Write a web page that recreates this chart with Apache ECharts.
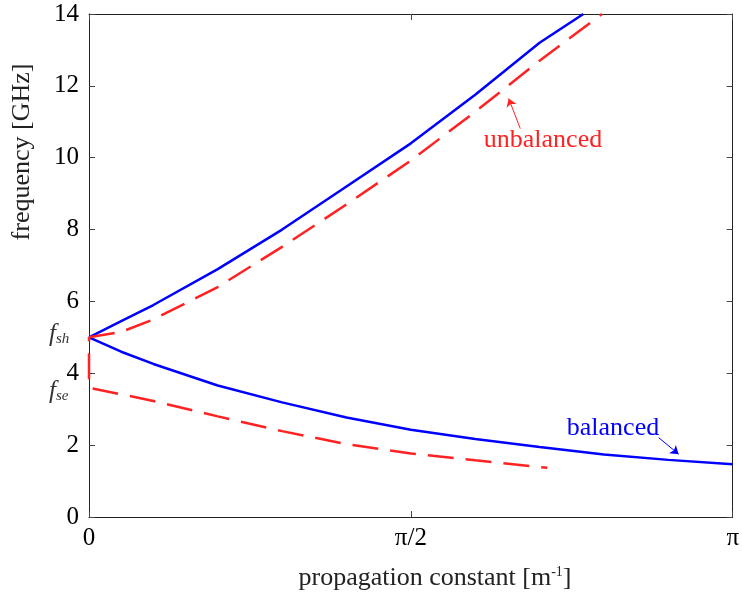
<!DOCTYPE html>
<html>
<head>
<meta charset="utf-8">
<script src="https://cdn.jsdelivr.net/npm/echarts@6/dist/echarts.min.js"></script>
<style>
  html, body { margin: 0; padding: 0; background: #fff; }
  #chart { width: 742px; height: 602px; }
</style>
</head>
<body>
<div id="chart"></div>
<script>
// propagation constant in units of pi, frequency in GHz
const betaBlueUp = [0, 0.05, 0.1, 0.2, 0.3, 0.4, 0.5, 0.6, 0.7, 0.768]
const freqBlueUp = [5.0, 5.45, 5.9, 6.9, 8.0, 9.2, 10.4, 11.75, 13.2, 14.0]

const betaBlueLow = [0, 0.05, 0.1, 0.2, 0.3, 0.4, 0.5, 0.6, 0.7, 0.8, 0.9, 1.0]
const freqBlueLow = [5.0, 4.6, 4.26, 3.66, 3.19, 2.77, 2.43, 2.17, 1.95, 1.74, 1.59, 1.47]

const betaRedUp = [0, 0.05, 0.1, 0.2, 0.3, 0.4, 0.5, 0.6, 0.7, 0.797]
const freqRedUp = [5.0, 5.15, 5.5, 6.4, 7.52, 8.7, 9.92, 11.28, 12.7, 14.0]

// starts at f_sh, drops along the axis to f_se, then the lower branch
const betaRedLow = [0, 0, 0.1, 0.2, 0.3, 0.4, 0.5, 0.6, 0.712]
const freqRedLow = [5.0, 3.6, 3.23, 2.8, 2.39, 2.03, 1.77, 1.58, 1.37]

const xTicks = { 0: '0', 0.5: 'π/2', 1: 'π' }

// annotation arrows: [beta, freq] from -> to
const arrowUnbalanced = [[0.670, 10.81], [0.652, 11.65]]
const arrowBalanced = [[0.885, 2.21], [0.916, 1.75]]

const BLUE = '#0000ff'
const RED = '#ff2222'
const FONT = 'Liberation Serif'

const zip = (xs, ys) => xs.map((x, i) => [x, ys[i]])

const chart = echarts.init(document.getElementById('chart'))

const axisCommon = () => ({
  axisLine: { show: true, onZero: false, lineStyle: { color: '#222', width: 1 } },
  axisTick: { show: true, inside: true, length: 6, lineStyle: { color: '#444' } },
  splitLine: { show: false }
})

const arrowLine = (pts, color) => ({
  silent: true,
  symbol: ['none', 'arrow'],
  symbolSize: 8,
  label: { show: false },
  lineStyle: { color: color, width: 1, type: 'solid' },
  emphasis: { disabled: true },
  animation: false,
  data: [[{ coord: pts[0] }, { coord: pts[1] }]]
})

var option = {
  animation: false,
  grid: { left: 89, right: 8, top: 14, bottom: 85 },
  xAxis: [
    Object.assign(axisCommon(), {
      type: 'value', min: 0, max: 1, interval: 0.5, position: 'bottom',
      axisLabel: {
        color: '#000', fontFamily: FONT, fontSize: 25, margin: 9,
        formatter: v => xTicks[v] !== undefined ? xTicks[v] : ''
      }
    }),
    Object.assign(axisCommon(), {
      type: 'value', min: 0, max: 1, interval: 0.5, position: 'top',
      axisLabel: { show: false }
    })
  ],
  yAxis: [
    Object.assign(axisCommon(), {
      type: 'value', min: 0, max: 14, interval: 2, position: 'left',
      axisLabel: { color: '#000', fontFamily: FONT, fontSize: 25, margin: 10 }
    }),
    Object.assign(axisCommon(), {
      type: 'value', min: 0, max: 14, interval: 2, position: 'right',
      axisLabel: { show: false }
    })
  ],
  series: [
    {
      name: 'balanced upper',
      type: 'line',
      data: zip(betaBlueUp, freqBlueUp),
      showSymbol: false,
      lineStyle: { color: BLUE, width: 2.5 }
    },
    {
      name: 'balanced lower',
      type: 'line',
      data: zip(betaBlueLow, freqBlueLow),
      showSymbol: false,
      lineStyle: { color: BLUE, width: 2.5 },
      markLine: arrowLine(arrowBalanced, BLUE)
    },
    {
      name: 'unbalanced upper',
      type: 'line',
      data: zip(betaRedUp, freqRedUp),
      showSymbol: false,
      lineStyle: { color: RED, width: 2.5, type: [26, 12] },
      markLine: arrowLine(arrowUnbalanced, RED)
    },
    {
      name: 'unbalanced lower',
      type: 'line',
      data: zip(betaRedLow, freqRedLow),
      showSymbol: false,
      lineStyle: { color: RED, width: 2.5, type: [26, 12], dashOffset: 22 }
    }
  ],
  graphic: [
    {
      type: 'text', x: 22, y: 152, rotation: Math.PI / 2,
      style: {
        text: 'frequency [GHz]', fill: '#222', font: '26px "Liberation Serif"',
        textAlign: 'center', textVerticalAlign: 'middle'
      }
    },
    {
      type: 'text', x: 435, y: 578,
      style: {
        text: 'propagation constant [m{sup|-1}]',
        fill: '#222', font: '26px "Liberation Serif"',
        textAlign: 'center', textVerticalAlign: 'middle',
        rich: { sup: { fontSize: 14, fontFamily: FONT, fill: '#222', verticalAlign: 'top', padding: [0, 0, 12, 0] } }
      }
    },
    {
      type: 'text', x: 49, y: 334,
      style: {
        text: '{f|f}{s|sh}', textVerticalAlign: 'middle',
        rich: {
          f: { fontSize: 25, fontFamily: FONT, fontStyle: 'italic', fill: '#333' },
          s: { fontSize: 15, fontFamily: FONT, fontStyle: 'italic', fill: '#333', padding: [11, 0, 0, 0] }
        }
      }
    },
    {
      type: 'text', x: 49, y: 391,
      style: {
        text: '{f|f}{s|se}', textVerticalAlign: 'middle',
        rich: {
          f: { fontSize: 25, fontFamily: FONT, fontStyle: 'italic', fill: '#333' },
          s: { fontSize: 15, fontFamily: FONT, fontStyle: 'italic', fill: '#333', padding: [11, 0, 0, 0] }
        }
      }
    },
    {
      type: 'text', x: 543, y: 140,
      style: {
        text: 'unbalanced', fill: RED, font: '26px "Liberation Serif"',
        textAlign: 'center', textVerticalAlign: 'middle'
      }
    },
    {
      type: 'text', x: 613, y: 428,
      style: {
        text: 'balanced', fill: BLUE, font: '26px "Liberation Serif"',
        textAlign: 'center', textVerticalAlign: 'middle'
      }
    }
  ]
}

chart.setOption(option)
</script>
</body>
</html>
